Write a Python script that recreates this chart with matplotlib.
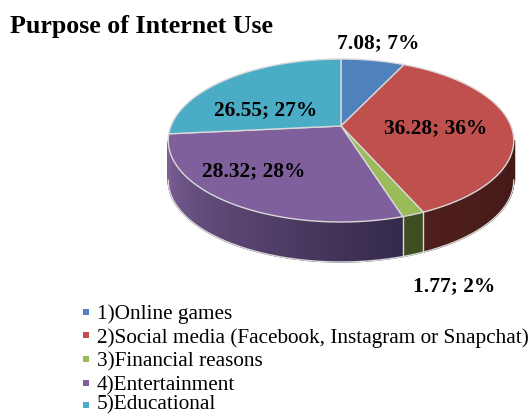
import numpy as np
import matplotlib
matplotlib.use("Agg")
import matplotlib.pyplot as plt
from matplotlib.colors import to_rgb

categories = ["1)Online games", "2)Social media (Facebook, Instagram or Snapchat)",
              "3)Financial reasons", "4)Entertainment", "5)Educational"]
values = [7.08, 36.28, 1.77, 28.32, 26.55]
percent_labels = [7, 36, 2, 28, 27]
top_colors = ["#4f81bd", "#c0504d", "#9bbb59", "#7f609c", "#4bacc6"]
wall_near = ["#3a5f8c", "#4e1e1c", "#3f4d20", "#34294a", "#317f94"]
wall_far = ["#3a5f8c", "#431917", "#3f4d20", "#7d6098", "#317f94"]

CX, CY = 341.0, 127.0
RX, RY = 170.0, 78.9
TILT = 0.178
DEPTH = 40.0
EDGE = "#d9d9d9"
# Rim angles between which the side wall faces the viewer
FRONT_START, FRONT_END = 100.0, 260.0


def project(theta_deg):
    """Perspective projection of rim points, clockwise from twelve o'clock."""
    t = np.radians(theta_deg)
    w = 1 + TILT * np.cos(t)
    return CX + RX * np.sin(t) / w, CY - RY * np.cos(t) / w


fig = plt.figure(figsize=(5.30, 4.14), dpi=100)
ax = fig.add_axes([0, 0, 1, 1])
ax.set_xlim(0, 530)
ax.set_ylim(414, 0)
ax.axis("off")

plt.rcParams["font.family"] = ["Liberation Serif", "DejaVu Serif"]

edges = np.concatenate([[0], np.cumsum(values)]) / sum(values) * 360

# Side wall: narrow shaded strips running along the front of the rim
for i in range(len(values)):
    a, b = max(edges[i], FRONT_START), min(edges[i + 1], FRONT_END)
    if a >= b:
        continue
    steps = max(int((b - a) * 2), 2)
    th = np.linspace(a, b, steps + 1)
    near, far = np.array(to_rgb(wall_near[i])), np.array(to_rgb(wall_far[i]))
    for j in range(steps):
        x0, y0 = project(th[j])
        x1, y1 = project(th[j + 1])
        f = j / steps if i != 1 else 1 - j / steps
        c = near + (far - near) * f
        ax.fill([x0, x1, x1, x0], [y0, y1, y1 + DEPTH, y0 + DEPTH],
                facecolor=c, edgecolor=c, lw=0.9, zorder=2)

# Pale outline below the wall and between the front slices
th = np.linspace(FRONT_START, FRONT_END, 200)
xb, yb = project(th)
ax.plot(xb, yb + DEPTH, color=EDGE, lw=1.0, zorder=3)
for e in edges[2:4]:
    xe, ye = project(e)
    ax.plot([xe, xe], [ye, ye + DEPTH], color=EDGE, lw=1.0, zorder=3)

# Top face
for i in range(len(values)):
    th = np.linspace(edges[i], edges[i + 1], 80)
    xs, ys = project(th)
    ax.fill(np.r_[CX, xs], np.r_[CY, ys], facecolor=top_colors[i],
            edgecolor=EDGE, lw=1.0, joinstyle="round", zorder=4)

ax.text(10, 26.5, "Purpose of Internet Use", fontsize=18.6, fontweight="bold",
        ha="left", va="center", zorder=6)

label_xy = [(378, 43), (436, 128), (454, 286), (254, 171), (266, 110)]
for v, p, (lx, ly) in zip(values, percent_labels, label_xy):
    ax.text(lx, ly, f"{v:.2f}; {p}%", fontsize=15.4, fontweight="bold",
            ha="center", va="center", zorder=6)

legend_baseline = [319, 343, 366.5, 390, 409.5]
marker_y = [313, 336, 360, 384, 406]
for name, c, by, my in zip(categories, top_colors, legend_baseline, marker_y):
    ax.scatter([86], [my], marker="s", s=14, color=c, lw=0, zorder=6)
    ax.text(97, by, name, fontsize=15.3, ha="left", va="baseline", zorder=6)

fig.savefig("out.png", dpi=100)
